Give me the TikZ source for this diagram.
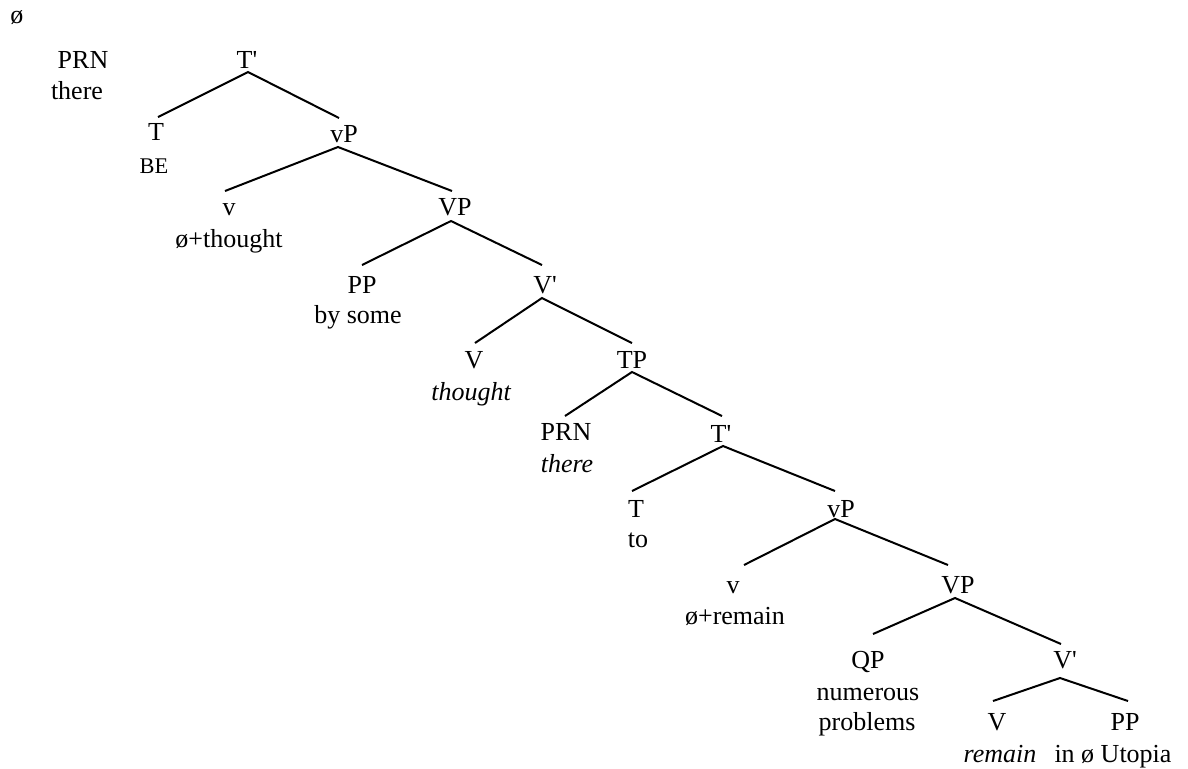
\documentclass[tikz,border=0pt]{standalone}
\usepackage{fontspec}
\setmainfont{Liberation Serif}[Ligatures=TeXOff]
\begin{document}
\begin{tikzpicture}[x=0.5pt,y=-0.5pt,
  lab/.style={anchor=base,inner sep=0pt,font=\fontsize{13}{15}\selectfont},
  small/.style={anchor=base,inner sep=0pt,font=\fontsize{11.2}{13}\selectfont},
  branch/.style={line width=1pt}]
\useasboundingbox (0,0) rectangle (1188,768);
% labels
\node[lab] (phi) at (17,23) {ø};
\node[lab] (PRNa) at (83,68) {PRN};
\node[lab] (therea) at (77,99) {there};
\node[lab] (Tba) at (247,68) {T'};
\node[lab] (Ta) at (156,140) {T};
\node[small] (BE) at (154,173) {BE};
\node[lab] (vPa) at (344,142) {vP};
\node[lab] (va) at (229,215) {v};
\node[lab] (wva) at (229,247) {ø+thought};
\node[lab] (VPa) at (455,215) {VP};
\node[lab] (PPa) at (362,293) {PP};
\node[lab] (bysome) at (358,323) {by some};
\node[lab] (Vba) at (545,293) {V'};
\node[lab] (Va) at (474,368) {V};
\node[lab] (thought) at (471,400) {\itshape thought};
\node[lab] (TP) at (632,368) {TP};
\node[lab] (PRNb) at (566,440) {PRN};
\node[lab] (thereb) at (567,472) {\itshape there};
\node[lab] (Tbb) at (721,442) {T'};
\node[lab] (Tb) at (636,517) {T};
\node[lab] (to) at (638,547) {to};
\node[lab] (vPb) at (841,517) {vP};
\node[lab] (vb) at (733,593) {v};
\node[lab] (wvb) at (735,624) {ø+remain};
\node[lab] (VPb) at (958,593) {VP};
\node[lab] (QP) at (868,668) {QP};
\node[lab] (numerous) at (868,700) {numerous};
\node[lab] (problems) at (867,730) {problems};
\node[lab] (Vbb) at (1065,668) {V'};
\node[lab] (Vb) at (997,730) {V};
\node[lab] (remain) at (1000,762) {\itshape remain};
\node[lab] (PPb) at (1125,730) {PP};
\node[lab] (utopia) at (1113,762) {in ø Utopia};
% branch end points
\coordinate (Tba-b) at (248,72);
\coordinate (Ta-t) at (158,117);
\coordinate (vPa-t) at (339,118);
\coordinate (vPa-b) at (338,147);
\coordinate (va-t) at (225,191);
\coordinate (VPa-t) at (452,191);
\coordinate (VPa-b) at (451,221);
\coordinate (PPa-t) at (362,265);
\coordinate (Vba-t) at (542,265);
\coordinate (Vba-b) at (542,298);
\coordinate (Va-t) at (475,343);
\coordinate (TP-t) at (632,343);
\coordinate (TP-b) at (632,372);
\coordinate (PRNb-t) at (565,416);
\coordinate (Tbb-t) at (722,416);
\coordinate (Tbb-b) at (723,446);
\coordinate (Tb-t) at (632,491);
\coordinate (vPb-t) at (835,491);
\coordinate (vPb-b) at (835,519);
\coordinate (vb-t) at (744,565);
\coordinate (VPb-t) at (948,565);
\coordinate (VPb-b) at (955,598);
\coordinate (QP-t) at (873,634);
\coordinate (Vbb-t) at (1061,644);
\coordinate (Vbb-b) at (1060,678);
\coordinate (Vb-t) at (993,701);
\coordinate (PPb-t) at (1128,701);
% branches
\draw[branch] (Ta-t) -- (Tba-b) -- (vPa-t);
\draw[branch] (va-t) -- (vPa-b) -- (VPa-t);
\draw[branch] (PPa-t) -- (VPa-b) -- (Vba-t);
\draw[branch] (Va-t) -- (Vba-b) -- (TP-t);
\draw[branch] (PRNb-t) -- (TP-b) -- (Tbb-t);
\draw[branch] (Tb-t) -- (Tbb-b) -- (vPb-t);
\draw[branch] (vb-t) -- (vPb-b) -- (VPb-t);
\draw[branch] (QP-t) -- (VPb-b) -- (Vbb-t);
\draw[branch] (Vb-t) -- (Vbb-b) -- (PPb-t);
\end{tikzpicture}
\end{document}
